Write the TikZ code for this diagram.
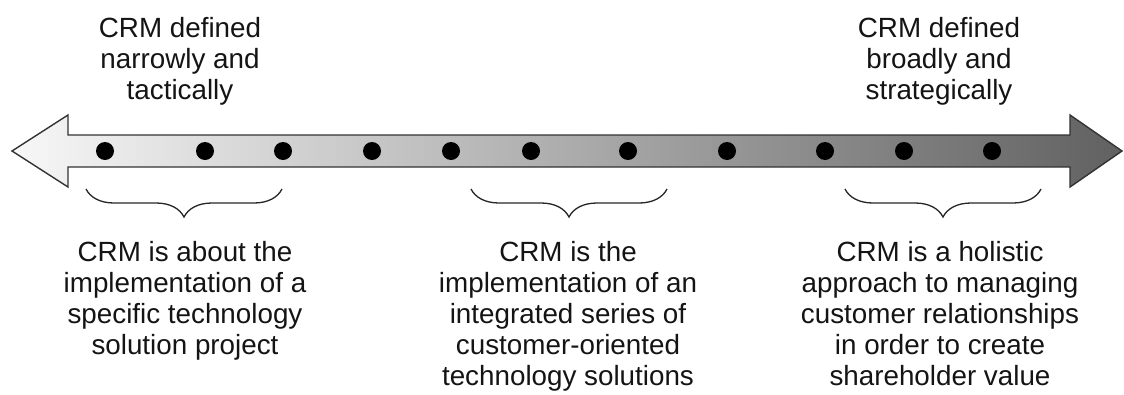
\documentclass[tikz,border=0pt]{standalone}
\usepackage{fontspec}
\setmainfont{Liberation Sans}
\usetikzlibrary{decorations.pathreplacing}
\begin{document}
\begin{tikzpicture}[x=1pt,y=-1pt,
  dot/.style={circle,fill=black,inner sep=0,minimum size=18pt},
  lbl/.style={align=center,inner sep=0,font=\fontsize{27.8}{31}\selectfont,text=black!92},
  bracepath/.style={draw=black!85,line width=1.3pt,decorate,decoration={brace,amplitude=28pt}},
  arrowbody/.style={draw=black!80,line width=1.4pt,left color=black!3,right color=black!62}]
\useasboundingbox (0,0) rectangle (1124,394);
\path[arrowbody] (12,151) -- (68,115) -- (68,135) -- (1070,135) -- (1070,115) -- (1122,151)
  -- (1070,187) -- (1070,167) -- (68,167) -- (68,187) -- cycle;
\foreach \i/\x in {1/105,2/205,3/283,4/372,5/451,6/531,7/628,8/727,9/825,10/904,11/992}
  \node[dot] (d\i) at (\x,151) {};
\coordinate (b1l) at (86,189); \coordinate (b1r) at (282,189);
\coordinate (b2l) at (471,189); \coordinate (b2r) at (667,189);
\coordinate (b3l) at (845,189); \coordinate (b3r) at (1041,189);
\draw[bracepath] (b1r) -- (b1l);
\draw[bracepath] (b2r) -- (b2l);
\draw[bracepath] (b3r) -- (b3l);
\node[lbl,anchor=north] (tl) at (180,17) {CRM defined\\narrowly and\\tactically};
\node[lbl,anchor=north] (tr) at (939,17) {CRM defined\\broadly and\\strategically};
\node[lbl,anchor=north] (bl) at (185,241) {CRM is about the\\implementation of a\\specific technology\\solution project};
\node[lbl,anchor=north] (bm) at (568,241) {CRM is the\\implementation of an\\integrated series of\\customer-oriented\\technology solutions};
\node[lbl,anchor=north] (br) at (940,241) {CRM is a holistic\\approach to managing\\customer relationships\\in order to create\\shareholder value};
\end{tikzpicture}
\end{document}
